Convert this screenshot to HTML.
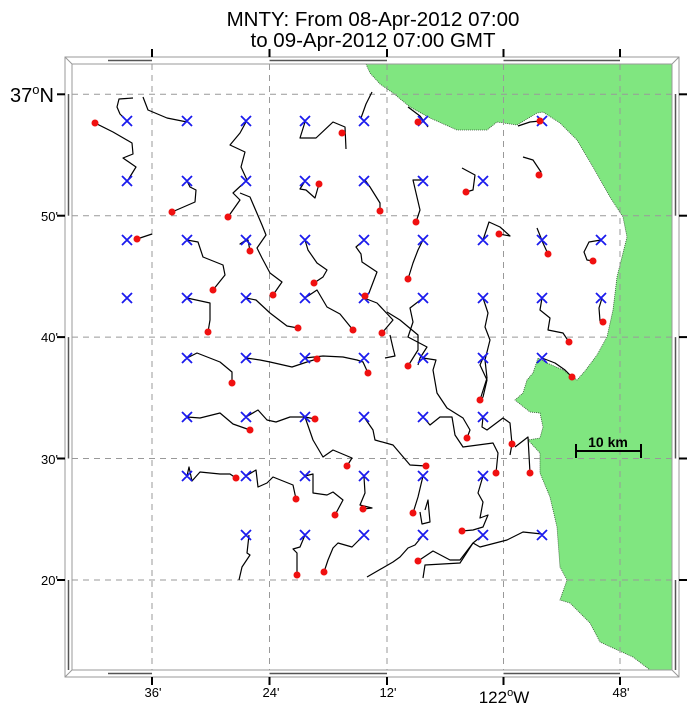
<!DOCTYPE html>
<html><head><meta charset="utf-8"><style>
body{margin:0;background:#fff}
svg{display:block}
text{font-family:"Liberation Sans",sans-serif}
</style></head><body>
<svg width="691" height="710" viewBox="0 0 691 710" xmlns="http://www.w3.org/2000/svg">
<rect width="691" height="710" fill="#fff"/>
<polygon fill="#80e680" stroke="#335533" stroke-width="0.8" stroke-dasharray="1 1" points="366,64 370,73 380,84 393,93 410,107 430,118 457,130 487,130 497,122 517,125 537,113 543,112 560,123 577,140 593,167 610,197 623,217 627,237 623,253 617,277 613,310 607,337 597,355 585,371 577,380 563,370 547,363 538,358 533,373 527,380 523,393 515,400 530,412 540,413 543,427 540,438 528,440 540,453 540,473 550,497 557,527 560,567 567,580 560,600 570,603 590,623 600,642 613,648 633,657 650,670 672,670 672,64"/>
<g stroke="#999" stroke-width="1" stroke-dasharray="6 5" fill="none">
<line x1="152" y1="64" x2="152" y2="670"/><line x1="269.5" y1="64" x2="269.5" y2="670"/>
<line x1="387" y1="64" x2="387" y2="670"/><line x1="503.5" y1="64" x2="503.5" y2="670"/>
<line x1="620" y1="64" x2="620" y2="670"/>
<line x1="72" y1="94.3" x2="672" y2="94.3"/><line x1="72" y1="215.7" x2="672" y2="215.7"/>
<line x1="72" y1="337.1" x2="672" y2="337.1"/><line x1="72" y1="458.5" x2="672" y2="458.5"/>
<line x1="72" y1="580" x2="672" y2="580"/>
</g>
<g fill="none" stroke="#999" stroke-width="1">
<rect x="65" y="57" width="614" height="620"/>
<rect x="72" y="64" width="600" height="606"/>
<line x1="65" y1="57" x2="72" y2="64"/><line x1="679" y1="57" x2="672" y2="64"/>
<line x1="65" y1="677" x2="72" y2="670"/><line x1="679" y1="677" x2="672" y2="670"/>
</g>
<g stroke="#555" stroke-width="1.5">
<line x1="108" y1="60.5" x2="152" y2="60.5"/><line x1="269.5" y1="60.5" x2="387" y2="60.5"/><line x1="503.5" y1="60.5" x2="620" y2="60.5"/>
<line x1="108" y1="673.5" x2="152" y2="673.5"/><line x1="269.5" y1="673.5" x2="387" y2="673.5"/><line x1="503.5" y1="673.5" x2="620" y2="673.5"/>
<line x1="68.5" y1="94" x2="68.5" y2="215.7"/><line x1="68.5" y1="337.1" x2="68.5" y2="458.5"/><line x1="68.5" y1="580" x2="68.5" y2="670"/>
<line x1="675.5" y1="94" x2="675.5" y2="215.7"/><line x1="675.5" y1="337.1" x2="675.5" y2="458.5"/><line x1="675.5" y1="580" x2="675.5" y2="670"/>
</g>
<g stroke="#000" stroke-width="2">
<line x1="152" y1="49" x2="152" y2="57"/><line x1="269.5" y1="49" x2="269.5" y2="57"/><line x1="387" y1="49" x2="387" y2="57"/><line x1="503.5" y1="49" x2="503.5" y2="57"/><line x1="620" y1="49" x2="620" y2="57"/>
<line x1="152" y1="677" x2="152" y2="685"/><line x1="269.5" y1="677" x2="269.5" y2="685"/><line x1="387" y1="677" x2="387" y2="685"/><line x1="503.5" y1="677" x2="503.5" y2="685"/><line x1="620" y1="677" x2="620" y2="685"/>
<line x1="57" y1="94.3" x2="65" y2="94.3"/><line x1="57" y1="215.7" x2="65" y2="215.7"/><line x1="57" y1="337.1" x2="65" y2="337.1"/><line x1="57" y1="458.5" x2="65" y2="458.5"/><line x1="57" y1="580" x2="65" y2="580"/>
<line x1="679" y1="94.3" x2="687" y2="94.3"/><line x1="679" y1="215.7" x2="687" y2="215.7"/><line x1="679" y1="337.1" x2="687" y2="337.1"/><line x1="679" y1="458.5" x2="687" y2="458.5"/><line x1="679" y1="580" x2="687" y2="580"/>
</g>
<text x="373" y="26" font-size="20.5" text-anchor="middle">MNTY: From 08-Apr-2012 07:00</text>
<text x="373" y="47" font-size="20.5" text-anchor="middle">to 09-Apr-2012 07:00 GMT</text>
<text x="10" y="102" font-size="20">37<tspan font-size="13" dy="-8">o</tspan><tspan dy="8">N</tspan></text>
<g font-size="13" text-anchor="end">
<text x="58" y="221">50'</text><text x="58" y="342">40'</text><text x="58" y="464">30'</text><text x="58" y="585">20'</text>
</g>
<g font-size="13" text-anchor="middle">
<text x="153" y="697">36'</text><text x="271" y="697">24'</text><text x="388" y="697">12'</text><text x="621" y="697">48'</text>
</g>
<text x="504" y="703" font-size="17" text-anchor="middle">122<tspan font-size="11" dy="-7">o</tspan><tspan dy="7">W</tspan></text>
<g stroke="#000" stroke-width="2"><line x1="576" y1="451" x2="641" y2="451"/><line x1="576" y1="444" x2="576" y2="458"/><line x1="641" y1="444" x2="641" y2="458"/></g>
<text x="608" y="447" font-size="14" font-weight="bold" text-anchor="middle">10 km</text>
<g fill="none" stroke="#000" stroke-width="1.2" stroke-linejoin="round">
<polyline points="128,180 136,167 123,158 133,154 132,143 113,132 95,123"/>
<polyline points="133,98 119,99 117,107 120,114 124,118"/>
<polyline points="187,122 167,118 148,110 143,97"/>
<polyline points="246,122 240,133 230,145 245,152 241,167 247,180 233,193 240,200 228,217"/>
<polyline points="240,193 250,197 262,225 266,235 257,248 262,258 270,273 282,282 273,295"/>
<polyline points="246,240 240,244 248,240 250,251"/>
<polyline points="305,122 300,138 316,138 333,122 345,127 346,149"/>
<polyline points="372,92 366,104 361,118"/>
<polyline points="408,107 420,116 428,127"/>
<polyline points="518,126 530,122 540,121"/>
<polyline points="187,181 190,187 196,190 195,202 172,212"/>
<polyline points="305,181 300,189 306,190 315,198 319,184"/>
<polyline points="365,180 370,187 380,203 380,211"/>
<polyline points="423,180 413,180 420,210 416,222"/>
<polyline points="462,168 475,175 473,190 466,192"/>
<polyline points="523,157 533,160 541,172 539,175"/>
<polyline points="137,239 152,234"/>
<polyline points="187,240 198,242 203,257 223,265 225,275 213,290"/>
<polyline points="305,240 308,250 317,263 327,270 323,277 314,283"/>
<polyline points="364,240 356,247 361,254 362,262 377,272 369,293 365,296"/>
<polyline points="423,240 418,250 413,263 408,279"/>
<polyline points="483,240 489,222 500,227 510,236 499,234"/>
<polyline points="537,228 543,243 548,254"/>
<polyline points="601,240 589,242 584,252 587,260 593,261"/>
<polyline points="187,298 210,303 210,320 208,332"/>
<polyline points="246,298 256,300 270,313 287,326 298,328"/>
<polyline points="305,298 317,290 327,307 340,314 353,330"/>
<polyline points="364,298 377,303 393,320 382,333"/>
<polyline points="423,298 410,308 413,322 408,337 427,347 420,358 418,365"/>
<polyline points="408,366 418,350 418,335 400,320 387,312"/>
<polyline points="483,298 488,313 485,327 490,340 485,360 487,378 480,400"/>
<polyline points="542,298 540,310 550,318 548,330 563,333 569,342"/>
<polyline points="602,298 599,308 600,321 603,322"/>
<polyline points="187,358 197,353 220,362 232,372 232,383"/>
<polyline points="246,358 260,360 270,362 292,367 307,362 317,359"/>
<polyline points="305,358 323,356 343,357 357,360 363,362 368,373"/>
<polyline points="390,335 393,348 395,356 385,358"/>
<polyline points="423,358 436,360 433,370 437,393 447,408 463,418 470,430 467,438"/>
<polyline points="483,358 480,365 487,380 483,397 480,400"/>
<polyline points="542,358 555,363 565,370 572,377"/>
<polyline points="187,417 200,418 220,413 233,424 250,430"/>
<polyline points="246,417 258,410 267,420 276,422 290,417 305,417 315,419"/>
<polyline points="305,417 313,440 323,457 333,450 352,458 347,466"/>
<polyline points="364,417 373,430 375,440 393,445 410,465 426,466"/>
<polyline points="423,417 430,425 440,417 452,417 455,435 463,447 493,443 498,453 496,473"/>
<polyline points="483,417 482,427 487,430 503,418 510,423 512,444 510,455"/>
<polyline points="515,447 528,437 530,473"/>
<polyline points="187,476 189,467 192,481 200,472 220,474 230,474 236,478"/>
<polyline points="246,476 256,470 258,487 267,483 273,477 283,481 293,485 296,499"/>
<polyline points="305,476 313,474 313,493 327,495 333,492 343,500 335,515"/>
<polyline points="364,477 365,493 360,505 372,508 363,509"/>
<polyline points="423,476 418,497 413,513"/>
<polyline points="425,510 428,500 430,522 422,524 420,512"/>
<polyline points="483,476 478,493 483,502 480,518 488,515 483,527 473,530 462,531"/>
<polyline points="249,535 247,553 250,555 242,567 239,580"/>
<polyline points="305,535 300,547 293,549 297,553 297,575"/>
<polyline points="364,535 352,547 338,543 333,548 328,560 324,572"/>
<polyline points="424,534 415,545 408,548 400,557 393,562 367,577"/>
<polyline points="418,561 433,551 450,560 460,560 473,543 483,535"/>
<polyline points="473,543 460,563 425,565 423,578"/>
<polyline points="542,534 523,532 507,540 480,547 473,543"/>
</g>
<g stroke="#1a1aee" stroke-width="1.8">
<path d="M122,116l10,10m0,-10l-10,10 M182,116l10,10m0,-10l-10,10 M241,116l10,10m0,-10l-10,10 M300,116l10,10m0,-10l-10,10 M359,116l10,10m0,-10l-10,10 M418,116l10,10m0,-10l-10,10 M537,116l10,10m0,-10l-10,10"/>
<path d="M122,176l10,10m0,-10l-10,10 M182,176l10,10m0,-10l-10,10 M241,176l10,10m0,-10l-10,10 M300,176l10,10m0,-10l-10,10 M359,176l10,10m0,-10l-10,10 M418,176l10,10m0,-10l-10,10 M478,176l10,10m0,-10l-10,10"/>
<path d="M122,235l10,10m0,-10l-10,10 M182,235l10,10m0,-10l-10,10 M241,235l10,10m0,-10l-10,10 M300,235l10,10m0,-10l-10,10 M359,235l10,10m0,-10l-10,10 M418,235l10,10m0,-10l-10,10 M478,235l10,10m0,-10l-10,10 M537,235l10,10m0,-10l-10,10 M596,235l10,10m0,-10l-10,10"/>
<path d="M122,293l10,10m0,-10l-10,10 M182,293l10,10m0,-10l-10,10 M241,293l10,10m0,-10l-10,10 M300,293l10,10m0,-10l-10,10 M359,293l10,10m0,-10l-10,10 M418,293l10,10m0,-10l-10,10 M478,293l10,10m0,-10l-10,10 M537,293l10,10m0,-10l-10,10 M596,293l10,10m0,-10l-10,10"/>
<path d="M182,353l10,10m0,-10l-10,10 M241,353l10,10m0,-10l-10,10 M300,353l10,10m0,-10l-10,10 M359,353l10,10m0,-10l-10,10 M418,353l10,10m0,-10l-10,10 M478,353l10,10m0,-10l-10,10 M537,353l10,10m0,-10l-10,10"/>
<path d="M182,412l10,10m0,-10l-10,10 M241,412l10,10m0,-10l-10,10 M300,412l10,10m0,-10l-10,10 M359,412l10,10m0,-10l-10,10 M418,412l10,10m0,-10l-10,10 M478,412l10,10m0,-10l-10,10"/>
<path d="M182,471l10,10m0,-10l-10,10 M241,471l10,10m0,-10l-10,10 M300,471l10,10m0,-10l-10,10 M359,471l10,10m0,-10l-10,10 M418,471l10,10m0,-10l-10,10 M478,471l10,10m0,-10l-10,10"/>
<path d="M241,530l10,10m0,-10l-10,10 M300,530l10,10m0,-10l-10,10 M359,530l10,10m0,-10l-10,10 M418,530l10,10m0,-10l-10,10 M478,530l10,10m0,-10l-10,10 M537,530l10,10m0,-10l-10,10"/>
</g>
<g fill="#f01010">
<circle cx="95" cy="123" r="3.5"/><circle cx="342" cy="133" r="3.5"/><circle cx="418" cy="122" r="3.5"/><circle cx="540" cy="121" r="3.5"/>
<circle cx="172" cy="212" r="3.5"/><circle cx="228" cy="217" r="3.5"/><circle cx="319" cy="184" r="3.5"/><circle cx="380" cy="211" r="3.5"/><circle cx="416" cy="222" r="3.5"/><circle cx="466" cy="192" r="3.5"/><circle cx="539" cy="175" r="3.5"/>
<circle cx="137" cy="239" r="3.5"/><circle cx="250" cy="251" r="3.5"/><circle cx="213" cy="290" r="3.5"/><circle cx="273" cy="295" r="3.5"/><circle cx="314" cy="283" r="3.5"/><circle cx="365" cy="296" r="3.5"/><circle cx="408" cy="279" r="3.5"/><circle cx="499" cy="234" r="3.5"/><circle cx="548" cy="254" r="3.5"/><circle cx="593" cy="261" r="3.5"/>
<circle cx="208" cy="332" r="3.5"/><circle cx="298" cy="328" r="3.5"/><circle cx="353" cy="330" r="3.5"/><circle cx="382" cy="333" r="3.5"/><circle cx="408" cy="366" r="3.5"/><circle cx="569" cy="342" r="3.5"/><circle cx="603" cy="322" r="3.5"/>
<circle cx="232" cy="383" r="3.5"/><circle cx="317" cy="359" r="3.5"/><circle cx="368" cy="373" r="3.5"/><circle cx="480" cy="400" r="3.5"/><circle cx="572" cy="377" r="3.5"/>
<circle cx="250" cy="430" r="3.5"/><circle cx="315" cy="419" r="3.5"/><circle cx="347" cy="466" r="3.5"/><circle cx="426" cy="466" r="3.5"/><circle cx="467" cy="438" r="3.5"/><circle cx="496" cy="473" r="3.5"/><circle cx="512" cy="444" r="3.5"/><circle cx="530" cy="473" r="3.5"/>
<circle cx="236" cy="478" r="3.5"/><circle cx="296" cy="499" r="3.5"/><circle cx="335" cy="515" r="3.5"/><circle cx="363" cy="509" r="3.5"/><circle cx="413" cy="513" r="3.5"/><circle cx="462" cy="531" r="3.5"/>
<circle cx="297" cy="575" r="3.5"/><circle cx="324" cy="572" r="3.5"/><circle cx="418" cy="561" r="3.5"/>
</g>
</svg>
</body></html>
